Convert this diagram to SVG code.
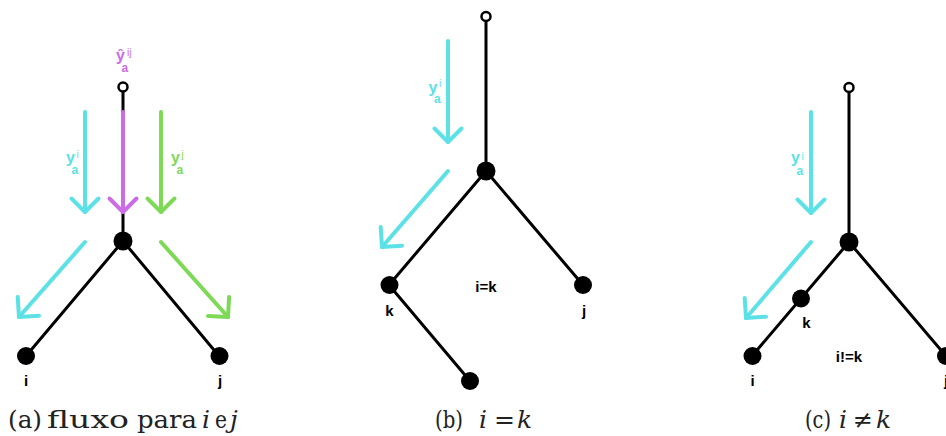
<svg xmlns="http://www.w3.org/2000/svg" width="946" height="436" viewBox="0 0 946 436">
<style>
.edge{stroke:#000;stroke-width:3;fill:none;stroke-linecap:round}
.node{fill:#000}
.root{fill:#fff;stroke:#000;stroke-width:2.5}
.cy{stroke:#5ce1e6;stroke-width:4;fill:none;stroke-linecap:round;stroke-linejoin:round}
.gr{stroke:#7ed957;stroke-width:4;fill:none;stroke-linecap:round;stroke-linejoin:round}
.pu{stroke:#cb6ce6;stroke-width:4;fill:none;stroke-linecap:round;stroke-linejoin:round}
.lbl{font-family:"Liberation Sans",Arial,sans-serif;font-weight:bold;font-size:15px;fill:#000;text-anchor:middle}
.y{font-family:"Liberation Sans",Arial,sans-serif;font-weight:bold;font-size:16px}
.sub{font-size:12px}
.sup{font-size:10px;font-weight:normal}
.cap{font-family:"DejaVu Serif",serif;font-size:25px;fill:#222}
.it{font-style:italic}
</style>
<!-- Panel (a) -->
<g id="connectors-a">
<line class="edge" x1="123" y1="91" x2="123" y2="241"/>
<line class="edge" x1="123" y1="241" x2="26" y2="356"/>
<line class="edge" x1="123" y1="241" x2="219" y2="356"/>
</g>
<g id="flows-a">
<line class="cy" x1="85" y1="112" x2="85" y2="212"/>
<polyline class="cy" points="71.5,198.5 85,212 98.5,198.5"/>
<line class="pu" x1="123" y1="112" x2="123" y2="212"/>
<polyline class="pu" points="109.5,198.5 123,212 136.5,198.5"/>
<line class="gr" x1="161" y1="112" x2="161" y2="212"/>
<polyline class="gr" points="147.5,198.5 161,212 174.5,198.5"/>
<line class="cy" x1="85" y1="242" x2="19" y2="317"/>
<polyline class="cy" points="17.7,297 19,317 39,315.7"/>
<line class="gr" x1="161" y1="242" x2="228" y2="317"/>
<polyline class="gr" points="229.1,297 228,317 208,315.9"/>
</g>
<g id="a-root"><circle class="root" cx="123" cy="87" r="4.5"/></g>
<g id="a-center"><circle class="node" cx="123" cy="241" r="9.5"/></g>
<g id="a-i"><circle class="node" cx="26" cy="356" r="9"/><text class="lbl" x="26" y="386">i</text></g>
<g id="a-j"><circle class="node" cx="219.5" cy="356" r="9"/><text class="lbl" x="220" y="386">j</text></g>
<g id="a-labels">
<text class="y" x="116" y="61" fill="#cb6ce6">ŷ<tspan class="sub" dx="-3.4" dy="11">a</tspan><tspan class="sup" dx="-1.2" dy="-16">ij</tspan></text>
<text class="y" x="66" y="163" fill="#5ce1e6">y<tspan class="sub" dx="-3.4" dy="11">a</tspan><tspan class="sup" dx="-1.7" dy="-16">i</tspan></text>
<text class="y" x="171" y="163" fill="#7ed957">y<tspan class="sub" dx="-3.4" dy="11">a</tspan><tspan class="sup" dx="-1.7" dy="-16">j</tspan></text>
</g>
<g id="caption-a">
<text class="cap" x="8" y="428" textLength="34" lengthAdjust="spacingAndGlyphs">(a)</text>
<text class="cap" x="47" y="428" textLength="82" lengthAdjust="spacingAndGlyphs">fluxo</text>
<text class="cap" x="137" y="428" textLength="60" lengthAdjust="spacingAndGlyphs">para</text>
<text class="cap it" x="202" y="428">i</text>
<text class="cap" x="215" y="428" textLength="12" lengthAdjust="spacingAndGlyphs">e</text>
<text class="cap it" x="230" y="428">j</text>
</g>
<!-- Panel (b) -->
<g id="connectors-b">
<line class="edge" x1="486" y1="21" x2="486" y2="171"/>
<line class="edge" x1="486" y1="171" x2="389" y2="285"/>
<line class="edge" x1="486" y1="171" x2="583" y2="285"/>
<line class="edge" x1="389" y1="285" x2="470" y2="381"/>
</g>
<g id="flows-b">
<line class="cy" x1="448" y1="41" x2="448" y2="142"/>
<polyline class="cy" points="434.5,128.5 448,142 461.5,128.5"/>
<line class="cy" x1="448" y1="171" x2="382" y2="247"/>
<polyline class="cy" points="380.7,227 382,247 402,245.7"/>
</g>
<g id="b-root"><circle class="root" cx="486" cy="16.5" r="4.5"/></g>
<g id="b-center"><circle class="node" cx="486" cy="171" r="9.5"/></g>
<g id="b-k"><circle class="node" cx="389.5" cy="285" r="9"/><text class="lbl" x="389.5" y="316">k</text></g>
<g id="b-j"><circle class="node" cx="583" cy="285" r="9"/><text class="lbl" x="584" y="316">j</text></g>
<g id="b-leaf"><circle class="node" cx="470" cy="381" r="9"/></g>
<g id="b-labels">
<text class="lbl" x="486" y="292">i=k</text>
<text class="y" x="428.5" y="93" fill="#5ce1e6">y<tspan class="sub" dx="-3.4" dy="10">a</tspan><tspan class="sup" dx="-1.7" dy="-16">i</tspan></text>
</g>
<g id="caption-b">
<text class="cap" x="435" y="428" textLength="28" lengthAdjust="spacingAndGlyphs">(b)</text>
<text class="cap it" x="479" y="428">i</text>
<text class="cap" x="494" y="428" textLength="21" lengthAdjust="spacingAndGlyphs">=</text>
<text class="cap it" x="517" y="428">k</text>
</g>
<!-- Panel (c) -->
<g id="connectors-c">
<line class="edge" x1="849" y1="92" x2="849" y2="242"/>
<line class="edge" x1="849" y1="242" x2="752" y2="356"/>
<line class="edge" x1="849" y1="242" x2="946" y2="356"/>
</g>
<g id="flows-c">
<line class="cy" x1="811" y1="112" x2="811" y2="213"/>
<polyline class="cy" points="797.5,199.5 811,213 824.5,199.5"/>
<line class="cy" x1="811" y1="242" x2="746" y2="318"/>
<polyline class="cy" points="744.7,298 746,318 766,316.7"/>
</g>
<g id="c-root"><circle class="root" cx="849" cy="87.5" r="4.5"/></g>
<g id="c-center"><circle class="node" cx="849" cy="242" r="9.5"/></g>
<g id="c-k"><circle class="node" cx="801" cy="298.5" r="9"/><text class="lbl" x="806.5" y="328">k</text></g>
<g id="c-i"><circle class="node" cx="752.5" cy="356" r="9"/><text class="lbl" x="752.5" y="386">i</text></g>
<g id="c-j"><circle class="node" cx="946" cy="356" r="9"/><text class="lbl" x="946" y="386">j</text></g>
<g id="c-labels">
<text class="lbl" x="849" y="362">i!=k</text>
<text class="y" x="791" y="163" fill="#5ce1e6">y<tspan class="sub" dx="-3.4" dy="12">a</tspan><tspan class="sup" dx="-1.7" dy="-15">i</tspan></text>
</g>
<g id="caption-c">
<text class="cap" x="805" y="428" textLength="26" lengthAdjust="spacingAndGlyphs">(c)</text>
<text class="cap it" x="839" y="428">i</text>
<text class="cap" x="853" y="428" textLength="20" lengthAdjust="spacingAndGlyphs">≠</text>
<text class="cap it" x="876" y="428">k</text>
</g>
</svg>
